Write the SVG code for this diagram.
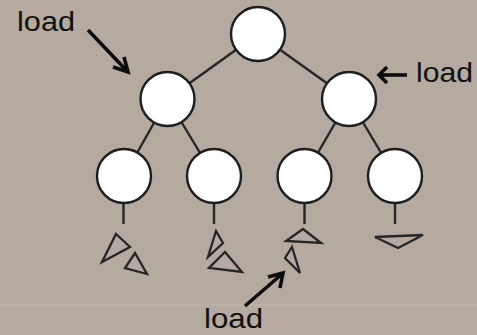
<svg xmlns="http://www.w3.org/2000/svg" width="477" height="335" viewBox="0 0 477 335">
  <style>
    .edge { stroke: #262626; stroke-width: 2.4; fill: none; }
    .node { fill: #ffffff; stroke: #1e1e1e; stroke-width: 2.4; }
    .leaf { fill: none; stroke: #262626; stroke-width: 2.3; stroke-linejoin: miter; }
    .arrow { stroke: #0c0c0c; stroke-width: 3.6; fill: none; stroke-linecap: butt; stroke-linejoin: miter; }
    .label { font-family: "Liberation Sans", Arial, sans-serif; font-size: 28px; fill: #111111; }
  </style>

  <!-- paper background -->
  <rect x="0" y="0" width="477" height="335" fill="#b4aaa0"/>
  <line x1="0" y1="305" x2="477" y2="305" stroke="#beb5ab" stroke-width="1.5"/>

  <!-- tree edges -->
  <g id="connectors">
    <line class="edge" x1="258" y1="34" x2="167.5" y2="99"/>
    <line class="edge" x1="258" y1="34" x2="349" y2="99"/>
    <line class="edge" x1="167.5" y1="99" x2="124" y2="176"/>
    <line class="edge" x1="167.5" y1="99" x2="214" y2="176"/>
    <line class="edge" x1="349" y1="99" x2="304.5" y2="176"/>
    <line class="edge" x1="349" y1="99" x2="395" y2="176"/>
    <line class="edge" x1="123.5" y1="200" x2="123.5" y2="224"/>
    <line class="edge" x1="214" y1="200" x2="214" y2="224"/>
    <line class="edge" x1="304.5" y1="200" x2="304.5" y2="224"/>
    <line class="edge" x1="395" y1="200" x2="395" y2="224"/>
  </g>

  <!-- tree nodes -->
  <g id="root"><circle class="node" cx="258" cy="34" r="27"/></g>
  <g id="left"><circle class="node" cx="167.5" cy="99" r="27"/></g>
  <g id="right"><circle class="node" cx="349" cy="99" r="27"/></g>
  <g id="left-left"><circle class="node" cx="124" cy="176" r="27"/></g>
  <g id="left-right"><circle class="node" cx="214" cy="176" r="27"/></g>
  <g id="right-left"><circle class="node" cx="304.5" cy="176" r="27"/></g>
  <g id="right-right"><circle class="node" cx="395" cy="176" r="27"/></g>

  <!-- scattered subtree fragments -->
  <g id="fragments">
    <polygon class="leaf" points="116,234 130,247 102,262"/>
    <polygon class="leaf" points="135,253 147,274 125,268"/>
    <polygon class="leaf" points="216,231 223,243 208,257"/>
    <polygon class="leaf" points="225,252 242,272 209,268"/>
    <polygon class="leaf" points="303,229 321,243 286,241"/>
    <polygon class="leaf" points="292,247 300,273 285,258"/>
    <polygon class="leaf" points="375,237 423,235 398,248"/>
  </g>

  <!-- "load" annotations -->
  <g id="load-left">
    <line class="arrow" x1="88" y1="30" x2="127" y2="71"/>
    <polyline class="arrow" points="113,67 128,72 124,57"/>
    <text class="label" x="17" y="31" textLength="58" lengthAdjust="spacingAndGlyphs">load</text>
  </g>
  <g id="load-right">
    <line class="arrow" x1="407" y1="75" x2="380" y2="75"/>
    <polyline class="arrow" points="387,67 379,75 387,83"/>
    <text class="label" x="416" y="82" textLength="57" lengthAdjust="spacingAndGlyphs">load</text>
  </g>
  <g id="load-bottom">
    <line class="arrow" x1="245" y1="306" x2="282" y2="274"/>
    <polyline class="arrow" points="268,277 283,273 280,288"/>
    <text class="label" x="204" y="328" textLength="59" lengthAdjust="spacingAndGlyphs">load</text>
  </g>
</svg>
